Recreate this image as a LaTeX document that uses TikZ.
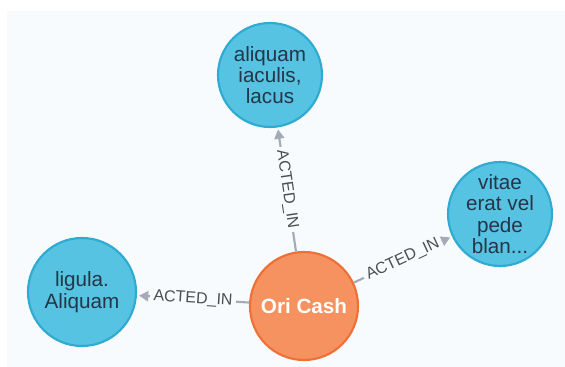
\documentclass[tikz,border=0pt]{standalone}
\usepackage{fontspec}
\setmainfont{Liberation Sans}
\usepackage{tikz}
\usetikzlibrary{arrows.meta}
\definecolor{nodeblue}{HTML}{55C3E1}
\definecolor{nodeblueline}{HTML}{2FAAD1}
\definecolor{nodeorange}{HTML}{F6925F}
\definecolor{nodeorangeline}{HTML}{EE7036}
\definecolor{relgray}{HTML}{A5ABB6}
\definecolor{canvasbg}{HTML}{F7FBFE}
\definecolor{labelgray}{HTML}{4E4E52}
\definecolor{nodetext}{HTML}{263548}

\begin{document}
\begin{tikzpicture}[x=0.75pt, y=-0.75pt,
  gnode/.style={circle, draw=#1line, fill=#1, line width=1.6pt, inner sep=0pt,
                align=center, font=\fontsize{15.5}{16}\selectfont, text=nodetext},
  rel/.style={-{Triangle[length=7pt, width=7.5pt]}, line width=1.6pt, relgray,
              shorten >=1.5pt},
  rellabel/.style={sloped, fill=canvasbg, inner sep=2.5pt, text=labelgray,
                   font=\fontsize{12}{12}\selectfont},
]

\useasboundingbox[fill=white] (0,0) rectangle (565,367);
\fill[canvasbg] (7,11) rectangle (565,367);

\node[gnode=nodeblue, minimum size=78pt] (movie1) at (270,75) {aliquam\\iaculis,\\lacus};
\node[gnode=nodeblue, minimum size=81pt] (movie2) at (82,292) {ligula.\\Aliquam};
\node[gnode=nodeblue, minimum size=73pt] (movie3) at (500,214) {vitae\\erat vel\\pede\\blan...};
\node[gnode=nodeorange, minimum size=81pt, text=white,
      font=\fontsize{15.5}{16}\selectfont\bfseries] (actor) at (304,306) {Ori Cash};

\draw[rel] (actor) -- node[rellabel] {ACTED\_IN} (movie1);
\draw[rel] (actor) -- node[rellabel] {ACTED\_IN} (movie2);
\draw[rel] (actor) -- node[rellabel] {ACTED\_IN} (movie3);

\end{tikzpicture}
\end{document}
